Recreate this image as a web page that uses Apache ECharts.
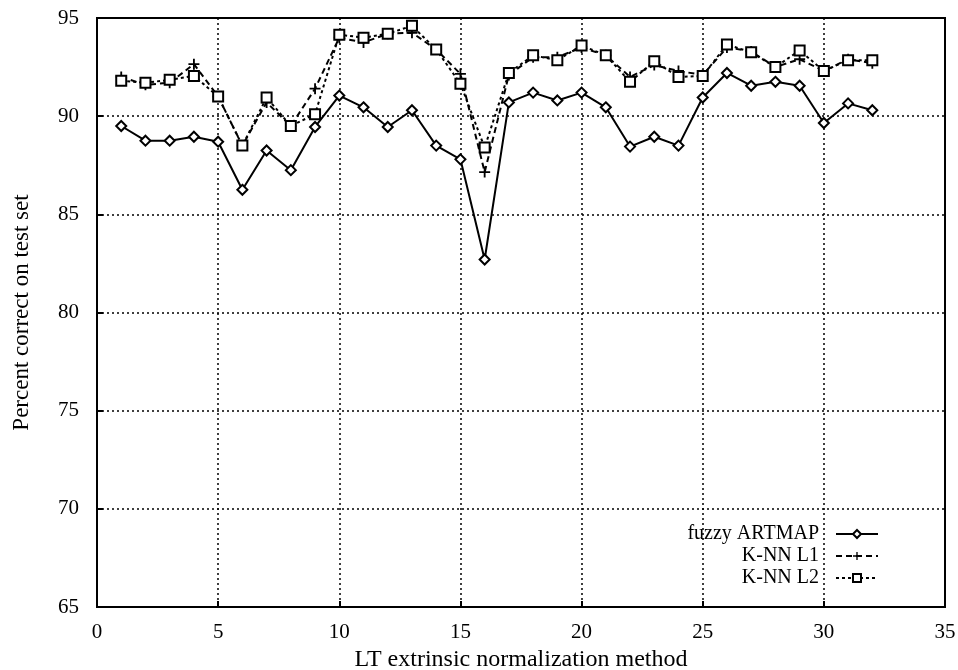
<!DOCTYPE html>
<html><head><meta charset="utf-8">
<script src="https://cdn.jsdelivr.net/npm/echarts@6/dist/echarts.min.js"></script>
<style>html,body{margin:0;padding:0;background:#fff}#c{width:958px;height:670px}</style>
</head><body><div id="c"></div>
<script>
const methods = [1,2,3,4,5,6,7,8,9,10,11,12,13,14,15,16,17,18,19,20,21,22,23,24,25,26,27,28,29,30,31,32];
const fuzzyArtmap = [89.5,88.75,88.75,88.95,88.7,86.25,88.25,87.25,89.45,91.05,90.45,89.45,90.3,88.5,87.8,82.7,90.7,91.2,90.8,91.2,90.45,88.45,88.95,88.5,90.95,92.2,91.55,91.75,91.55,89.65,90.65,90.3];
const knnL1 = [92.0,91.6,91.7,92.65,91.0,88.5,90.7,89.5,91.4,94.0,93.75,94.2,94.25,93.4,92.15,87.15,92.1,93.0,93.0,93.5,93.1,92.0,92.6,92.3,92.1,93.5,93.3,92.5,92.9,92.3,92.9,92.7];
const knnL2 = [91.8,91.7,91.85,92.05,91.0,88.5,90.95,89.5,90.1,94.15,94.0,94.2,94.6,93.4,91.65,88.4,92.2,93.1,92.85,93.6,93.1,91.75,92.8,92.0,92.05,93.65,93.25,92.5,93.35,92.3,92.85,92.85];
const xTicks = [0,5,10,15,20,25,30,35];
const yTicks = [65,70,75,80,85,90,95];

const font = 'Liberation Serif';
const plus = 'path://M5,0 L7,0 L7,5 L12,5 L12,7 L7,7 L7,12 L5,12 L5,7 L0,7 L0,5 L5,5 Z';
const pts = arr => arr.map((v,i)=>[methods[i], v]);

const chart = echarts.init(document.getElementById('c'));
chart.setOption({
  animation:false,
  backgroundColor:'#fff',
  grid:{left:97,right:13,top:18,bottom:63,show:true,borderColor:'#000',borderWidth:2,backgroundColor:'transparent',
    containLabel:false,outerBoundsMode:'none'},
  xAxis:{type:'value',min:xTicks[0],max:xTicks[xTicks.length-1],interval:5,
    name:'LT extrinsic normalization method',nameLocation:'middle',nameGap:38,
    nameTextStyle:{fontFamily:font,fontSize:24,color:'#000'},
    axisLine:{show:true,lineStyle:{color:'#000',width:2}},
    axisTick:{show:true,inside:true,length:6,lineStyle:{color:'#000',width:2}},
    axisLabel:{fontFamily:font,fontSize:21,color:'#000',margin:15},
    splitLine:{show:true,lineStyle:{color:'#000',width:1.5,type:[2,3]}}},
  yAxis:{type:'value',min:yTicks[0],max:yTicks[yTicks.length-1],interval:5,
    name:'Percent correct on test set',nameLocation:'middle',nameGap:64,
    nameTextStyle:{fontFamily:font,fontSize:23,color:'#000'},
    axisLine:{show:true,lineStyle:{color:'#000',width:2}},
    axisTick:{show:true,inside:true,length:6,lineStyle:{color:'#000',width:2}},
    axisLabel:{fontFamily:font,fontSize:21,color:'#000',margin:18},
    splitLine:{show:true,lineStyle:{color:'#000',width:1.5,type:[2,3]}}},
  legend:{orient:'vertical',right:74,top:519,align:'right',itemWidth:42,itemHeight:10,itemGap:2,
    textStyle:{fontFamily:font,fontSize:20,color:'#000',padding:[0,12,0,0]},
    data:['fuzzy ARTMAP','K-NN L1','K-NN L2']},
  series:[
    {name:'fuzzy ARTMAP',type:'line',data:pts(fuzzyArtmap),symbol:'diamond',symbolSize:10,
     lineStyle:{color:'#000',width:2,type:'solid'},
     itemStyle:{color:'#fff',borderColor:'#000',borderWidth:2}},
    {name:'K-NN L1',type:'line',data:pts(knnL1),symbol:plus,symbolSize:11,
     lineStyle:{color:'#000',width:2,type:[6,4]},
     itemStyle:{color:'#000',borderColor:'#000',borderWidth:0}},
    {name:'K-NN L2',type:'line',data:pts(knnL2),symbol:'rect',symbolSize:10,
     lineStyle:{color:'#000',width:2,type:[3,3]},
     itemStyle:{color:'#fff',borderColor:'#000',borderWidth:2}}
  ]
});
</script></body></html>
